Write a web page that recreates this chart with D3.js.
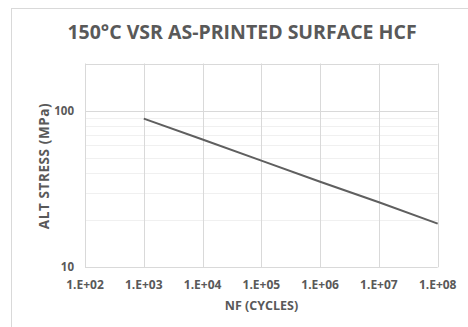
<!DOCTYPE html>
<html>
<head>
<meta charset="utf-8">
<script src="https://cdn.jsdelivr.net/npm/d3@7"></script>
<style>
  html, body { margin: 0; padding: 0; background: #fff; }
  svg { display: block; font-family: "Open Sans", "Noto Sans", sans-serif; }
</style>
</head>
<body>
<div id="chart"></div>
<script>
// S-N curve, values
const cycles = [1e3, 1e4, 1e5, 1e6, 1e7, 1e8];
const stress = [89, 65.5, 48, 35.2, 26, 19];
const xTicks = [1e2, 1e3, 1e4, 1e5, 1e6, 1e7, 1e8];
const yTicks = [10, 100];
const yMinor = [20, 30, 40, 50, 60, 70, 80, 90];

const width = 468, height = 327;
const margin = { top: 63.5, right: 30.3, bottom: 59.7, left: 85 };

const textColor = '#595959';
const gridMajor = '#d9d9d9';
const gridMinor = '#f0f0f0';

const svg = d3.select('#chart').append('svg')
    .attr('width', width)
    .attr('height', height);

// Chart frame
svg.append('rect')
    .attr('x', 11.5).attr('y', 8.5)
    .attr('width', 480).attr('height', 340)
    .attr('fill', '#fff')
    .attr('stroke', gridMajor);

const x = d3.scaleLog()
    .domain([1e2, 1e8])
    .range([margin.left, width - margin.right]);

const y = d3.scaleLog()
    .domain([10, 200])
    .range([height - margin.bottom, margin.top]);

// Minor horizontal gridlines
svg.append('g')
    .selectAll('line')
    .data(yMinor)
    .join('line')
    .attr('x1', x(1e2)).attr('x2', x(1e8))
    .attr('y1', d => Math.round(y(d)) + 0.5)
    .attr('y2', d => Math.round(y(d)) + 0.5)
    .attr('stroke', gridMinor);

// Major gridlines
svg.append('g')
    .selectAll('line')
    .data([100, 200])
    .join('line')
    .attr('x1', x(1e2)).attr('x2', x(1e8))
    .attr('y1', d => Math.round(y(d)) + 0.5)
    .attr('y2', d => Math.round(y(d)) + 0.5)
    .attr('stroke', gridMajor);

svg.append('g')
    .selectAll('line')
    .data(xTicks)
    .join('line')
    .attr('x1', d => Math.round(x(d)) + 0.5)
    .attr('x2', d => Math.round(x(d)) + 0.5)
    .attr('y1', y(200)).attr('y2', y(10))
    .attr('stroke', gridMajor);

// Bottom axis line
svg.append('line')
    .attr('x1', x(1e2)).attr('x2', x(1e8))
    .attr('y1', Math.round(y(10)) + 0.5)
    .attr('y2', Math.round(y(10)) + 0.5)
    .attr('stroke', gridMajor);

// Data line
const line = d3.line()
    .x((d, i) => x(cycles[i]))
    .y(d => y(d));

svg.append('path')
    .datum(stress)
    .attr('d', line)
    .attr('fill', 'none')
    .attr('stroke', '#5f5f5f')
    .attr('stroke-width', 2);

// Tick labels
svg.append('g')
    .selectAll('text')
    .data(xTicks)
    .join('text')
    .attr('x', d => x(d))
    .attr('y', 288.5)
    .attr('text-anchor', 'middle')
    .attr('fill', textColor)
    .style('font-size', '12px')
    .style('font-weight', 'bold')
    .text(d => '1.E+' + String(Math.round(Math.log10(d))).padStart(2, '0'));

svg.append('g')
    .selectAll('text')
    .data(yTicks)
    .join('text')
    .attr('x', 74)
    .attr('y', d => y(d))
    .attr('dy', '0.35em')
    .attr('text-anchor', 'end')
    .attr('fill', textColor)
    .style('font-size', '11.5px')
    .style('font-weight', 'bold')
    .text(d => d);

// Titles
svg.append('text')
    .attr('x', 242).attr('y', 39)
    .attr('text-anchor', 'middle')
    .attr('fill', textColor)
    .style('font-size', '19.5px')
    .style('font-weight', 'bold')
    .text('150°C VSR AS-PRINTED SURFACE HCF');

svg.append('text')
    .attr('x', 261.5).attr('y', 310)
    .attr('text-anchor', 'middle')
    .attr('fill', textColor)
    .style('font-size', '12.5px')
    .style('font-weight', 'bold')
    .text('NF (CYCLES)');

svg.append('text')
    .attr('transform', 'translate(48.5, 166) rotate(-90)')
    .attr('text-anchor', 'middle')
    .attr('fill', textColor)
    .style('font-size', '13.5px')
    .style('font-weight', 'bold')
    .style('letter-spacing', '0.6px')
    .text('ALT STRESS (MPa)');
</script>
</body>
</html>
